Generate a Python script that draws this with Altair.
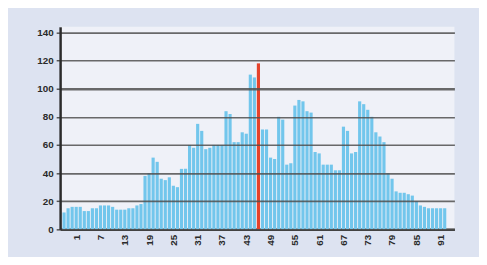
import altair as alt
import pandas as pd

values = [12, 15, 16, 16, 16, 13, 13, 15, 15, 17,
          17, 17, 16, 14, 14, 14, 15, 15, 17, 18,
          38, 40, 51, 48, 36, 35, 37, 31, 30, 43,
          43, 60, 58, 75, 70, 57, 58, 60, 60, 60,
          84, 82, 62, 62, 69, 68, 110, 108, 118, 71,
          71, 51, 50, 80, 78, 46, 47, 88, 92, 91,
          84, 83, 55, 54, 46, 46, 46, 42, 42, 73,
          70, 54, 55, 91, 89, 85, 80, 69, 66, 62,
          40, 36, 27, 26, 26, 25, 24, 20, 17, 16,
          15, 15, 15, 15, 15]
days = list(range(-2, len(values) - 2))
label_days = list(range(1, 92, 6))
highlight_day = 46
y_ticks = [0, 20, 40, 60, 80, 100, 120, 140]

df = pd.DataFrame({"day": days, "value": values})

bars = alt.Chart(df).transform_calculate(
    x0="datum.day - 0.39", x1="datum.day + 0.39", base="0"
).mark_bar().encode(
    x=alt.X("x0:Q",
            scale=alt.Scale(domain=[-2.97, 94.4], nice=False, zero=False),
            axis=alt.Axis(values=label_days, format="d", title=None, labelAngle=-90,
                          labelFont="Liberation Sans", labelFontSize=10,
                          labelFontWeight="bold", labelColor="#2a2a2a",
                          labelPadding=5, ticks=False,
                          domainColor="#2b2b2b", domainWidth=2.5, grid=False)),
    x2="x1:Q",
    y=alt.Y("value:Q", scale=alt.Scale(domain=[0, 144], nice=False),
            axis=alt.Axis(values=y_ticks, title=None, labelFont="Liberation Sans",
                          labelFontSize=10, labelFontWeight="bold",
                          labelColor="#2a2a2a", labelPadding=3,
                          tickSize=4, tickColor="#555555", tickWidth=1.5,
                          domainColor="#2b2b2b", domainWidth=2.5,
                          grid=True, gridColor="#505050", gridOpacity=0.85,
                          gridWidth={"condition": {"test": "datum.value === 100", "value": 2.6}, "value": 1.7},
                          zindex=1)),
    y2="base:Q",
    color=alt.condition(alt.datum.day == highlight_day, alt.value("#e5432c"), alt.value("#72c6ec")),
)

chart = bars.properties(
    width=401, height=206,
    autosize=alt.AutoSizeParams(type="none"),
    padding={"left": 53, "top": 17, "right": 25, "bottom": 26},
    background="#dde3f1",
).configure_view(fill="#eff1f8", stroke=None)

chart.save("out.html", embed_options={"renderer": "svg", "actions": False})
